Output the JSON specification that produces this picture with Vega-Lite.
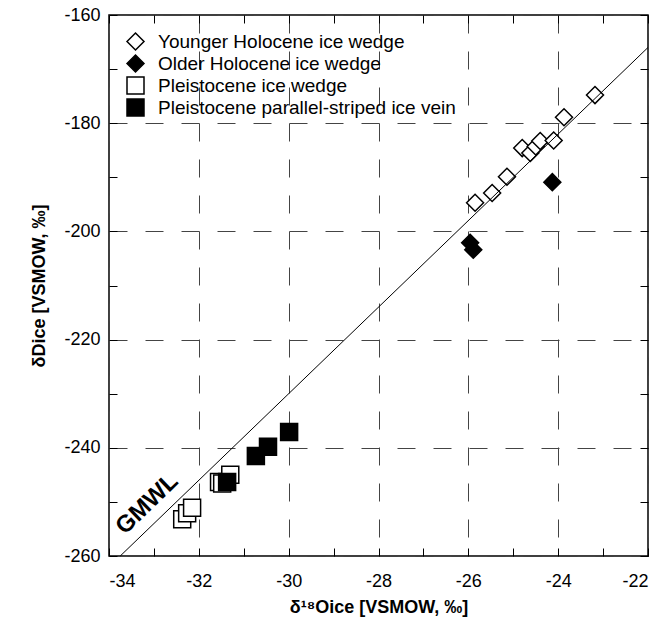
{
  "$schema": "https://vega.github.io/schema/vega-lite/v6.json",
  "width": 539,
  "height": 541,
  "autosize": {"type": "none"},
  "padding": {"left": 109, "top": 15, "right": 17, "bottom": 74},
  "background": "white",
  "config": {
    "view": {"stroke": "black", "strokeWidth": 1.5},
    "axis": {
      "domain": false,
      "labelFont": "Liberation Sans",
      "labelFontSize": 18,
      "labelColor": "black",
      "titleFont": "Liberation Sans",
      "titleFontSize": 18,
      "titleFontWeight": "bold",
      "titleColor": "black",
      "tickColor": "black",
      "tickWidth": 1,
      "tickSize": -8,
      "gridColor": "#444444",
      "gridWidth": 1,
      "gridDash": [18, 18]
    },
    "legend": {
      "orient": "top-left",
      "offset": 17,
      "padding": 0,
      "labelFont": "Liberation Sans",
      "labelFontSize": 19,
      "labelColor": "black",
      "labelOffset": 13,
      "labelLimit": 440,
      "rowPadding": -1,
      "symbolStrokeColor": "black",
      "symbolStrokeWidth": 1.5,
      "symbolOpacity": 1
    }
  },
  "datasets": {
    "pts": [
      {"group": "Pleistocene ice wedge", "d18O": -32.37, "dD": -253.2},
      {"group": "Pleistocene ice wedge", "d18O": -32.26, "dD": -252.1},
      {"group": "Pleistocene ice wedge", "d18O": -32.15, "dD": -251.1},
      {"group": "Pleistocene ice wedge", "d18O": -31.55, "dD": -246.3},
      {"group": "Pleistocene ice wedge", "d18O": -31.48, "dD": -246.6},
      {"group": "Pleistocene ice wedge", "d18O": -31.3, "dD": -245.0},
      {"group": "Pleistocene parallel-striped ice vein", "d18O": -31.37, "dD": -246.3},
      {"group": "Pleistocene parallel-striped ice vein", "d18O": -30.73, "dD": -241.5},
      {"group": "Pleistocene parallel-striped ice vein", "d18O": -30.46, "dD": -239.8},
      {"group": "Pleistocene parallel-striped ice vein", "d18O": -29.99, "dD": -237.1},
      {"group": "Older Holocene ice wedge", "d18O": -25.96, "dD": -202.1},
      {"group": "Older Holocene ice wedge", "d18O": -25.89, "dD": -203.4},
      {"group": "Older Holocene ice wedge", "d18O": -24.13, "dD": -190.9},
      {"group": "Younger Holocene ice wedge", "d18O": -25.85, "dD": -194.7},
      {"group": "Younger Holocene ice wedge", "d18O": -25.47, "dD": -192.9},
      {"group": "Younger Holocene ice wedge", "d18O": -25.14, "dD": -189.9},
      {"group": "Younger Holocene ice wedge", "d18O": -24.8, "dD": -184.6},
      {"group": "Younger Holocene ice wedge", "d18O": -24.62, "dD": -185.5},
      {"group": "Younger Holocene ice wedge", "d18O": -24.5, "dD": -184.3},
      {"group": "Younger Holocene ice wedge", "d18O": -24.4, "dD": -183.3},
      {"group": "Younger Holocene ice wedge", "d18O": -24.1, "dD": -183.2},
      {"group": "Younger Holocene ice wedge", "d18O": -23.87, "dD": -178.9},
      {"group": "Younger Holocene ice wedge", "d18O": -23.18, "dD": -174.8}
    ],
    "gmwl": [
      {"d18O": -33.75, "dD": -260},
      {"d18O": -22, "dD": -166}
    ],
    "lbl": [
      {"d18O": -33.15, "dD": -250.4, "t": "GMWL"}
    ]
  },
  "layer": [
    {
      "data": {"name": "pts"},
      "mark": {"type": "point", "filled": true, "strokeWidth": 1.5, "opacity": 1},
      "encoding": {
        "x": {
          "field": "d18O", "type": "quantitative",
          "scale": {"domain": [-34, -22], "nice": false, "zero": false},
          "axis": {
            "orient": "bottom",
            "title": "δ¹⁸Oice [VSMOW, ‰]",
            "titlePadding": 8,
            "labelPadding": 24,
            "values": [-34, -33, -32, -31, -30, -29, -28, -27, -26, -25, -24, -23, -22],
            "labelExpr": "datum.value % 2 == 0 ? '' + datum.value : ''",
            "grid": true,
            "gridOpacity": {"condition": {"test": "datum.value % 2 != 0", "value": 0}, "value": 1}
          }
        },
        "y": {
          "field": "dD", "type": "quantitative",
          "scale": {"domain": [-260, -160], "nice": false, "zero": false},
          "axis": {
            "orient": "left",
            "title": "δDice [VSMOW, ‰]",
            "titlePadding": 15,
            "labelPadding": 17,
            "values": [-260, -250, -240, -230, -220, -210, -200, -190, -180, -170, -160],
            "labelExpr": "datum.value % 20 == 0 ? '' + datum.value : ''",
            "grid": true,
            "gridOpacity": {"condition": {"test": "datum.value % 20 != 0", "value": 0}, "value": 1}
          }
        },
        "shape": {
          "field": "group", "type": "nominal",
          "scale": {
            "domain": ["Younger Holocene ice wedge", "Older Holocene ice wedge", "Pleistocene ice wedge", "Pleistocene parallel-striped ice vein"],
            "range": ["diamond", "diamond", "square", "square"]
          },
          "legend": {"title": null}
        },
        "fill": {
          "field": "group", "type": "nominal",
          "scale": {
            "domain": ["Younger Holocene ice wedge", "Older Holocene ice wedge", "Pleistocene ice wedge", "Pleistocene parallel-striped ice vein"],
            "range": ["white", "black", "white", "black"]
          },
          "legend": {"title": null}
        },
        "stroke": {
          "field": "group", "type": "nominal",
          "scale": {
            "domain": ["Younger Holocene ice wedge", "Older Holocene ice wedge", "Pleistocene ice wedge", "Pleistocene parallel-striped ice vein"],
            "range": ["black", "black", "black", "black"]
          },
          "legend": {"title": null}
        },
        "size": {
          "field": "group", "type": "nominal",
          "scale": {
            "domain": ["Younger Holocene ice wedge", "Older Holocene ice wedge", "Pleistocene ice wedge", "Pleistocene parallel-striped ice vein"],
            "range": [289, 289, 200, 200]
          },
          "legend": {"title": null}
        }
      }
    },
    {
      "data": {"name": "gmwl"},
      "mark": {"type": "line", "color": "black", "strokeWidth": 1},
      "encoding": {
        "x": {
          "field": "d18O", "type": "quantitative",
          "axis": {
            "orient": "top", "title": null, "labels": false, "grid": false,
            "values": [-34, -33, -32, -31, -30, -29, -28, -27, -26, -25, -24, -23, -22]
          }
        },
        "y": {
          "field": "dD", "type": "quantitative",
          "axis": {
            "orient": "right", "title": null, "labels": false, "grid": false,
            "values": [-260, -250, -240, -230, -220, -210, -200, -190, -180, -170, -160]
          }
        }
      }
    },
    {
      "data": {"name": "lbl"},
      "mark": {"type": "text", "angle": 316, "fontSize": 24, "fontWeight": "bold", "font": "Liberation Sans", "color": "black"},
      "encoding": {
        "x": {"field": "d18O", "type": "quantitative", "axis": null},
        "y": {"field": "dD", "type": "quantitative", "axis": null},
        "text": {"field": "t"}
      }
    }
  ],
  "resolve": {"axis": {"x": "independent", "y": "independent"}}
}
